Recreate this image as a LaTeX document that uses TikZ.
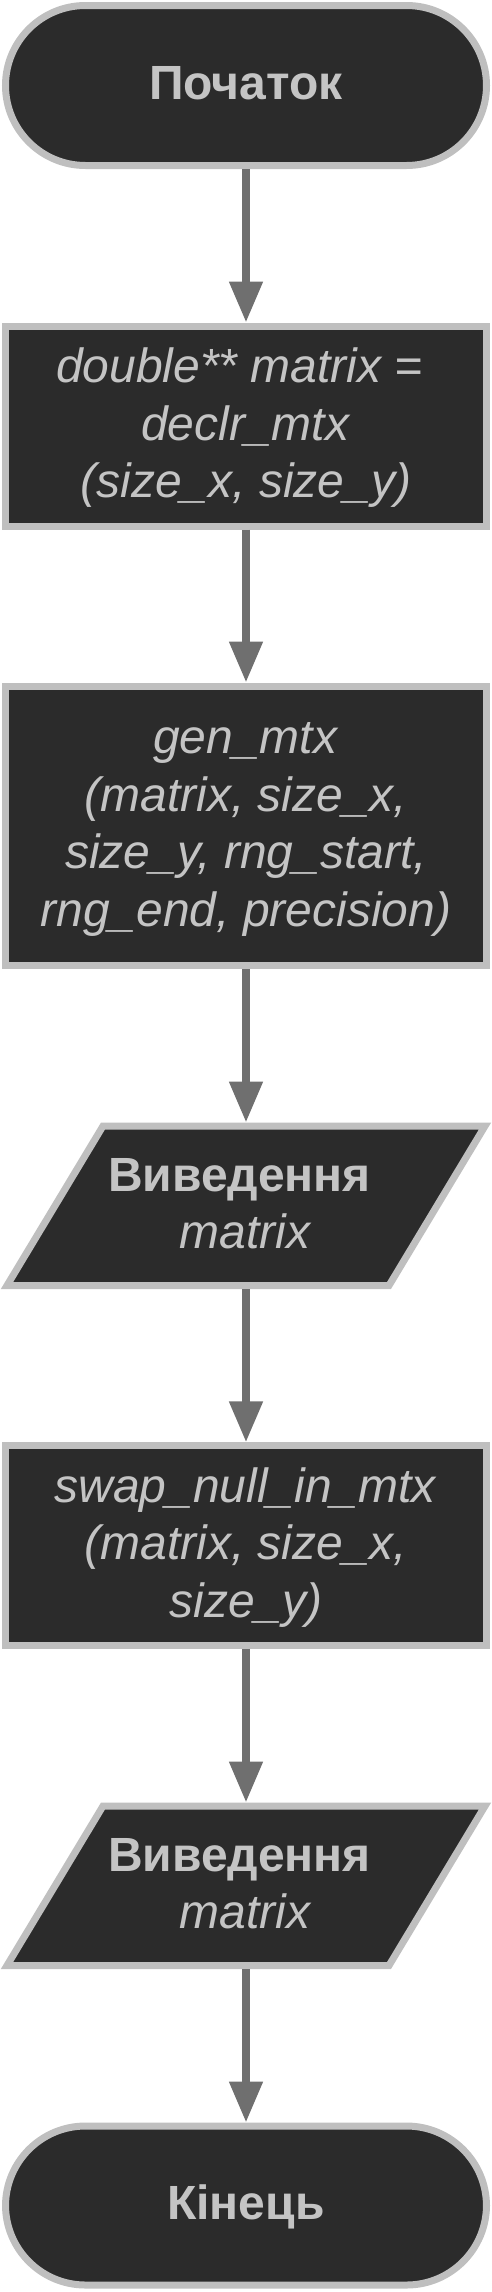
\documentclass[tikz,border=0pt]{standalone}
\usepackage{fontspec}
\setmainfont{Liberation Sans}
\usetikzlibrary{arrows.meta,backgrounds}
\definecolor{nodefill}{HTML}{2B2B2B}
\definecolor{nodeline}{HTML}{BFBFBF}
\definecolor{nodetext}{HTML}{C4C4C4}
\definecolor{arrowcol}{HTML}{6F6F6F}
\newcommand\lstr{\rule[-0.25\baselineskip]{0pt}{\baselineskip}}
\newcommand\ioshape[1]{%
  \begin{scope}[on background layer]
  \draw[ioline] ([shift={(-239,79.75)}]#1.center) -- ([shift={(143,79.75)}]#1.center)
    -- ([shift={(239,-79.75)}]#1.center) -- ([shift={(-143,-79.75)}]#1.center) -- cycle;
  \end{scope}}
\begin{document}
\begin{tikzpicture}[x=1pt,y=-1pt,
  txt/.style={text=nodetext, align=center, inner sep=0pt, font=\fontsize{48}{57.5}\selectfont},
  base/.style={txt, draw=nodeline, fill=nodefill, line width=7pt},
  term/.style={base, rectangle, rounded corners=80pt, minimum width=481pt},
  procbox/.style={base, rectangle, minimum width=481pt},
  iobox/.style={txt, rectangle, minimum width=382pt, minimum height=159.5pt, outer sep=3.5pt},
  ioline/.style={draw=nodeline, fill=nodefill, line width=7pt},
  flow/.style={draw=arrowcol, line width=8pt, -{Triangle[width=32pt,length=41pt]}}]
\useasboundingbox (0,0) rectangle (492,2292);
\node[term, minimum height=160pt] (start) at (246,85.5) {\lstr\textbf{Початок}};
\node[procbox, minimum height=200pt] (decl) at (246,426)
  {\lstr\textit{double** matrix =}\kern13pt\\\lstr\textit{declr\_mtx}\\\lstr\textit{(size\_x, size\_y)}};
\node[procbox, minimum height=279.5pt] (gen) at (246,825.75)
  {\lstr\textit{gen\_mtx}\\\lstr\textit{(matrix, size\_x,}\\\lstr\textit{size\_y, rng\_start,}\\\lstr\textit{rng\_end, precision)}};
\node[iobox] (out1) at (246,1205.75) {\lstr\textbf{Виведення}\kern13pt\\\lstr\textit{matrix}};
\ioshape{out1}
\node[procbox, minimum height=199.5pt] (swap) at (246,1545.55)
  {\lstr\textit{swap\_null\_in\_mtx}\\\lstr\textit{(matrix, size\_x,}\\\lstr\textit{size\_y)}};
\node[iobox] (out2) at (246,1885.75) {\lstr\textbf{Виведення}\kern13pt\\\lstr\textit{matrix}};
\ioshape{out2}
\node[term, minimum height=159pt] (end) at (246,2205.5) {\lstr\textbf{Кінець}};
\draw[flow] (start) -- (decl);
\draw[flow] (decl) -- (gen);
\draw[flow] (gen) -- (out1);
\draw[flow] (out1) -- (swap);
\draw[flow] (swap) -- (out2);
\draw[flow] (out2) -- (end);
\end{tikzpicture}
\end{document}
